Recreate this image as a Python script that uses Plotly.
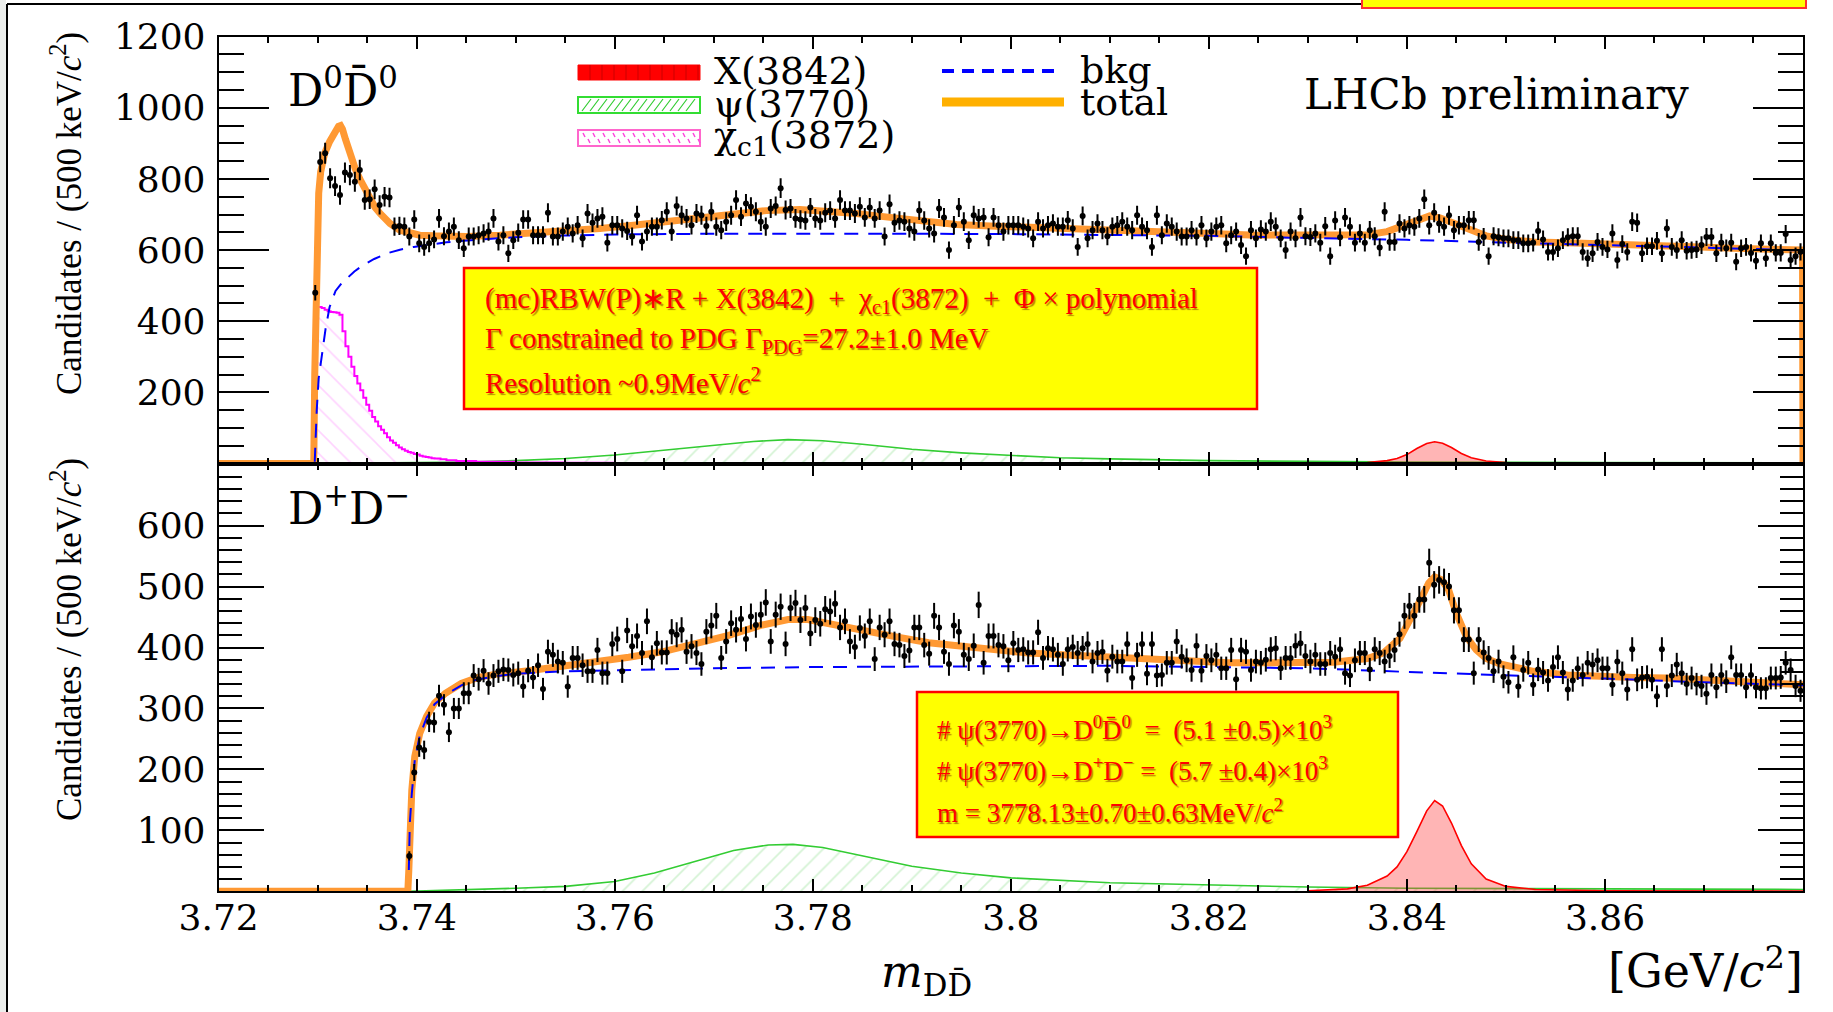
import numpy as np
import plotly.graph_objects as go

W, H = 1833, 1012

# ---------------- data ----------------
BIN = 0.0005
top_first_bin = 3.72975   # D0 D0bar, first bin centre
bot_first_bin = 3.73925   # D+ D-, first bin centre

top_counts = [
    480, 848, 872, 802, 780, 755, 818, 811, 792, 825,
    741, 743, 771, 727, 750, 748, 666, 668, 666, 638,
    686, 619, 609, 619, 630, 689, 639, 652, 666, 628,
    605, 638, 638, 642, 647, 652, 689, 624, 642, 591,
    628, 649, 686, 686, 642, 642, 642, 705, 638, 638,
    652, 666, 647, 670, 633, 703, 677, 689, 694, 621,
    670, 670, 661, 654, 638, 698, 624, 652, 666, 666,
    684, 708, 652, 724, 698, 689, 670, 703, 698, 668,
    708, 666, 656, 680, 698, 741, 694, 731, 722, 708,
    680, 666, 717, 724, 774, 713, 717, 689,
    686, 683, 720, 689, 683, 705, 711, 689, 741, 711,
    711, 703, 722, 692, 720, 689, 711, 638, 729, 677,
    683, 680, 661, 652, 711, 683, 661, 647, 717, 692,
    600, 670, 720, 680, 628, 698, 689, 692, 636, 692,
    670, 652, 670, 670, 670, 666, 661, 633, 680, 661,
    670, 675, 666, 666, 684, 661, 609, 696, 633, 656,
    675, 656, 639, 666, 670, 680, 666, 656, 698, 666,
    656, 609, 698, 642, 675, 666, 652, 638, 638, 656,
    638, 670, 633, 652, 666, 670, 619, 642, 652, 614,
    583, 656, 633, 658, 652, 680, 666, 633, 600, 652,
    633,
    692, 639, 637, 647, 621, 667, 583, 683, 636, 692,
    666, 621, 647, 621, 656, 639, 607, 708, 623, 623,
    675, 661, 670, 666, 689, 743, 670, 705, 675, 666,
    698, 656, 670, 670, 684, 684, 623, 637, 583, 639,
    636, 633, 633, 628, 628, 619, 619, 621, 654, 630,
    595, 595, 605, 628, 636, 639, 639, 595, 577, 591,
    623, 609, 602, 647, 572, 617, 595, 680, 677, 591,
    611, 611, 626, 591, 661, 609, 600, 628, 598, 600,
    602, 614, 637, 637, 591, 621, 605, 621, 567, 605,
    609, 592, 570, 619, 577, 619, 592, 592, 645, 572,
    583, 595,
]

bot_counts = [
    58, 195, 236, 232, 278, 277, 321, 306, 261, 300,
    300, 325, 325, 354, 348, 362, 341, 354, 361, 364,
    363, 355, 358, 336, 362, 351, 371, 332, 393, 388,
    377, 375, 336, 383, 383, 371, 361, 361, 396, 358,
    358, 406, 414, 361, 428, 402, 419, 391, 443, 384,
    407, 392, 392, 426, 421, 429, 393, 402, 391, 373,
    426, 436, 452, 383, 410, 440, 429, 447, 414, 451,
    437, 454, 474, 410, 454, 467, 406, 465, 473, 445,
    465, 423, 445, 439, 463, 459, 472, 433, 443, 410,
    401, 432, 419, 443, 381, 433, 421, 443, 406, 404,
    386, 395, 433, 433, 404, 390, 452, 433, 393, 373,
    436, 426, 388, 381, 403, 470, 375, 419, 419, 404,
    402, 379, 407, 396, 397, 392, 392, 425, 383, 399,
    397, 388, 373, 397, 401, 391, 399, 406, 377, 391,
    393, 362, 385, 377, 377, 406, 350, 388, 406, 357,
    406, 354, 355, 375, 375, 410, 385, 379, 363, 403,
    362, 386, 379, 388, 366, 366, 396, 348, 396, 393,
    363, 377, 375, 380, 397, 399, 366, 383, 383, 403,
    407, 386,
    377, 388, 373, 373, 391, 385, 397, 358, 354, 379,
    391, 391, 364, 397, 391, 377, 386, 396, 422, 452,
    468, 452, 479, 479, 539, 503, 511, 507, 500, 461,
    461, 413, 413, 358, 413, 392, 383, 361, 377, 352,
    343, 384, 336, 363, 375, 339, 364, 359, 346, 368,
    384, 359, 331, 346, 366, 355, 375, 372, 379, 366,
    366, 339, 377, 358, 331, 397, 347, 351, 352, 347,
    320, 397, 337, 354, 372, 358, 340, 350, 340, 337,
    324, 355, 335, 355, 344, 384, 355, 355, 335, 355,
    335, 333, 333, 350, 350, 351, 375, 363, 337, 329,
]

# ---- fit curves, D0 D0bar ----
top_total_m = [3.7200, 3.7296, 3.7297, 3.7299, 3.7301, 3.7303, 3.7307, 3.7312, 3.7316,
               3.7319, 3.7321, 3.7323, 3.7325, 3.7328, 3.7333, 3.7338, 3.7343, 3.7348,
               3.7353, 3.7358, 3.7363, 3.7368, 3.7373, 3.7383, 3.7393, 3.7403, 3.7417,
               3.7450, 3.7484, 3.7518, 3.7552, 3.7585, 3.7619, 3.7652, 3.7686, 3.7720,
               3.7753, 3.7787, 3.7811, 3.7844, 3.7878, 3.7912, 3.7945, 3.7979, 3.8013,
               3.8046, 3.8080, 3.8114, 3.8147, 3.8181, 3.8215, 3.8248, 3.8292, 3.8326,
               3.8360, 3.8380, 3.8393, 3.8410, 3.8423, 3.8434, 3.8447, 3.8460, 3.8480,
               3.8501, 3.8528, 3.8562, 3.8595, 3.8629, 3.8663, 3.8696, 3.8730, 3.8764,
               3.8797, 3.87995, 3.8800]
top_total_v = [0, 0, 250, 640, 760, 820, 872, 905, 928,
               940, 948, 950, 940, 912, 862, 828, 797, 768,
               741, 720, 703, 688, 675, 656, 647, 642, 640,
               638, 642, 647, 652, 661, 670, 680, 694, 703,
               711, 714, 710, 703, 692, 680, 672, 668, 664,
               661, 658, 654, 652, 647, 645, 642, 641, 640,
               643, 652, 666, 686, 696, 690, 675, 661, 640,
               630, 623, 621, 619, 616, 611, 609, 605, 602,
               600, 600, 0]

top_bkg_m = [3.7297, 3.7299, 3.7301, 3.7304, 3.7308, 3.7312, 3.7318, 3.7324, 3.7329,
             3.7337, 3.7346, 3.7357, 3.7370, 3.7383, 3.7397, 3.7430, 3.7464, 3.7500,
             3.7550, 3.7600, 3.7700, 3.7800, 3.7900, 3.8000, 3.8100, 3.8200, 3.8300,
             3.8400, 3.8500, 3.8600, 3.8700, 3.8800]
top_bkg_v = [5, 150, 240, 300, 380, 440, 485, 506, 520,
             540, 558, 575, 591, 601, 609, 622, 630, 636,
             641, 644, 646, 647, 646, 645, 643, 640, 634,
             629, 621, 615, 607, 599]

top_psi_m = [3.7297, 3.735, 3.740, 3.745, 3.750, 3.755, 3.760, 3.765, 3.770, 3.774,
             3.7775, 3.781, 3.785, 3.790, 3.795, 3.800, 3.805, 3.810, 3.820, 3.830,
             3.840, 3.860, 3.880]
top_psi_v = [0, 1, 2, 4, 8, 14, 24, 37, 52, 62,
             67, 64, 54, 40, 30, 22, 16, 13, 8, 6,
             4, 3, 2]

top_x_m = [3.830, 3.834, 3.836, 3.838, 3.839, 3.840, 3.841, 3.842, 3.8428, 3.8436,
           3.8445, 3.8455, 3.8465, 3.848, 3.850, 3.853, 3.860, 3.880]
top_x_v = [0.5, 1.5, 3, 8, 14, 25, 42, 56, 61, 57,
           45, 28, 16, 7, 3, 1.5, 0.6, 0.2]

top_chi_m = [3.7297, 3.7298, 3.7301, 3.7304, 3.7307, 3.7310, 3.7313, 3.7316, 3.7319,
             3.7322, 3.7325, 3.7328, 3.7331, 3.7334, 3.7337, 3.7340, 3.7343, 3.7346,
             3.7349, 3.7352, 3.7355, 3.7358, 3.7361, 3.7364, 3.7367, 3.7370, 3.7373,
             3.7376, 3.7379, 3.7382, 3.7385, 3.7388, 3.7391, 3.7394, 3.7397, 3.7400,
             3.7403, 3.7406, 3.7409, 3.7412, 3.7415, 3.7418, 3.7424, 3.7430, 3.7440,
             3.7460, 3.7500, 3.7550, 3.7600, 3.7700]
top_chi_v = [0, 440, 440, 437, 432, 428, 426, 425, 424,
             418, 372, 330, 300, 272, 246, 225, 206, 185,
             165, 148, 131, 118, 105, 95, 85, 74, 65,
             58, 51, 45, 40, 36, 32, 30, 27, 25,
             22, 20, 18, 17, 15, 14, 12, 9, 7,
             5, 3, 2, 1, 0.5]

# ---- fit curves, D+ D- ----
bot_total_m = [3.7200, 3.7391, 3.7392, 3.7393, 3.7395, 3.7398, 3.7403, 3.7410, 3.7418,
               3.7429, 3.7445, 3.7462, 3.7479, 3.7513, 3.7547, 3.7580, 3.7614, 3.7648,
               3.7681, 3.7715, 3.7749, 3.7775, 3.7795, 3.7816, 3.7850, 3.7883, 3.7917,
               3.7951, 3.7984, 3.8018, 3.8052, 3.8085, 3.8119, 3.8153, 3.8186, 3.8220,
               3.8254, 3.8292, 3.8326, 3.8360, 3.8376, 3.8393, 3.8403, 3.8413, 3.8422,
               3.8428, 3.8435, 3.8442, 3.8450, 3.8460, 3.8470, 3.8480, 3.8494, 3.8528,
               3.8562, 3.8595, 3.8629, 3.8662, 3.8696, 3.8730, 3.8764, 3.8800]
bot_total_v = [0, 0, 35, 112, 166, 221, 259, 287, 309,
               325, 341, 351, 356, 362, 369, 375, 384, 393,
               406, 420, 437, 446, 446, 440, 430, 418, 408,
               402, 396, 391, 388, 385, 382, 380, 377, 375,
               375, 375, 376, 382, 391, 415, 443, 476, 506,
               516, 511, 495, 456, 418, 396, 382, 373, 361,
               355, 352, 351, 350, 347, 344, 341, 339]

bot_bkg_m = [3.7392, 3.7393, 3.7395, 3.7398, 3.7403, 3.7410, 3.7418, 3.7430, 3.7445,
             3.7460, 3.7480, 3.7500, 3.7550, 3.7600, 3.7700, 3.7800, 3.7900, 3.8000,
             3.8100, 3.8200, 3.8300, 3.8400, 3.8500, 3.8600, 3.8700, 3.8800]
bot_bkg_v = [35, 112, 160, 215, 255, 285, 307, 323, 338,
             347, 353, 357, 361, 363, 366, 368, 369, 370,
             370, 368, 366, 360, 355, 349, 343, 338]

bot_psi_m = [3.7392, 3.742, 3.745, 3.750, 3.755, 3.760, 3.764, 3.768, 3.772, 3.7755,
             3.778, 3.781, 3.785, 3.790, 3.795, 3.800, 3.810, 3.820, 3.830, 3.840,
             3.860, 3.880]
bot_psi_v = [0, 1, 3, 5, 8, 16, 30, 48, 67, 76,
             77, 72, 58, 41, 30, 22, 14, 10, 7, 5,
             4, 3]

bot_x_m = [3.830, 3.834, 3.836, 3.838, 3.839, 3.840, 3.841, 3.842, 3.8428, 3.8436,
           3.8445, 3.8455, 3.8465, 3.848, 3.850, 3.853, 3.860, 3.880]
bot_x_v = [1, 4, 10, 25, 40, 65, 98, 132, 149, 140,
           112, 75, 45, 20, 8, 3, 1, 0.3]

# axis ticks
x_major = [3.72, 3.74, 3.76, 3.78, 3.80, 3.82, 3.84, 3.86, 3.88]
x_major_text = ["3.72", "3.74", "3.76", "3.78", "3.8", "3.82", "3.84", "3.86", ""]
yt_major = [200, 400, 600, 800, 1000, 1200]
yb_major = [100, 200, 300, 400, 500, 600]

# ---------------- derived ----------------
top_x = [round(top_first_bin + BIN * i, 6) for i in range(len(top_counts))]
bot_x = [round(bot_first_bin + BIN * i, 6) for i in range(len(bot_counts))]
x_minor = [round(3.72 + 0.005 * k, 4) for k in range(33) if k % 4 != 0]
yt_minor = [v for v in range(50, 1201, 50) if v % 200 != 0]
yb_minor = [v for v in range(20, 701, 20) if v % 100 != 0]

ORANGE = "#ff9933"
SERIF = "DejaVu Serif"
TIMES = "Liberation Serif"


def PX(x):
    return x / W


def PY(y):
    return 1 - y / H


fig = go.Figure()


def add_panel(xa, ya, psi_m, psi_v, xm, xv, tot_m, tot_v, bkg_m, bkg_v, cx, cy, chi=None):
    # psi(3770)
    fig.add_trace(go.Scatter(x=psi_m, y=psi_v, xaxis=xa, yaxis=ya, mode="lines",
                             line=dict(color="#33cc33", width=1.6), fill="tozeroy",
                             fillcolor="rgba(0,0,0,0)",
                             fillpattern=dict(shape="/", fgcolor="rgba(60,200,60,0.45)",
                                              bgcolor="rgba(0,0,0,0)", size=14, solidity=0.12),
                             showlegend=False, hoverinfo="skip"))
    if chi is not None:
        fig.add_trace(go.Scatter(x=chi[0], y=chi[1], xaxis=xa, yaxis=ya, mode="lines",
                                 line=dict(color="#ff00ff", width=2, shape="hv"), fill="tozeroy",
                                 fillcolor="rgba(0,0,0,0)",
                                 fillpattern=dict(shape="\\", fgcolor="rgba(255,80,255,0.5)",
                                                  bgcolor="rgba(0,0,0,0)", size=16, solidity=0.1),
                                 showlegend=False, hoverinfo="skip"))
    # X(3842)
    fig.add_trace(go.Scatter(x=xm, y=xv, xaxis=xa, yaxis=ya, mode="lines",
                             line=dict(color="#ff0000", width=1.6), fill="tozeroy",
                             fillcolor="rgba(255,60,60,0.38)",
                             showlegend=False, hoverinfo="skip"))
    # total
    fig.add_trace(go.Scatter(x=tot_m, y=tot_v, xaxis=xa, yaxis=ya, mode="lines",
                             line=dict(color=ORANGE, width=7),
                             showlegend=False, hoverinfo="skip"))
    # background
    fig.add_trace(go.Scatter(x=bkg_m, y=bkg_v, xaxis=xa, yaxis=ya, mode="lines",
                             line=dict(color="#0000ff", width=2, dash="14px,10px"),
                             showlegend=False, hoverinfo="skip"))
    # data
    fig.add_trace(go.Scatter(x=cx, y=cy, xaxis=xa, yaxis=ya, mode="markers",
                             marker=dict(color="black", size=6),
                             error_y=dict(type="data", array=list(np.sqrt(cy)), thickness=2,
                                          width=0, color="black"),
                             showlegend=False, hoverinfo="skip"))


add_panel("x", "y", top_psi_m, top_psi_v, top_x_m, top_x_v, top_total_m, top_total_v,
          top_bkg_m, top_bkg_v, top_x, top_counts, chi=(top_chi_m, top_chi_v))
add_panel("x2", "y2", bot_psi_m, bot_psi_v, bot_x_m, bot_x_v, bot_total_m, bot_total_v,
          bot_bkg_m, bot_bkg_v, bot_x, bot_counts)

xdom = [PX(218.7), PX(1803)]
ydom_top = [PY(463.5), PY(36.7)]
ydom_bot = [PY(891.3), PY(463.5)]

base_x = dict(range=[3.72, 3.88], domain=xdom, showgrid=False, zeroline=False, showline=True,
              linecolor="black", linewidth=2, mirror="allticks", ticks="inside", ticklen=12,
              tickwidth=2, tickcolor="black", tickmode="array", tickvals=x_major,
              automargin=False,
              minor=dict(tickmode="array", tickvals=x_minor, ticks="inside", ticklen=6,
                         tickwidth=1.5, tickcolor="black"))
base_y = dict(showgrid=False, zeroline=False, showline=True, linecolor="black", linewidth=2,
              mirror="allticks", ticks="inside", tickwidth=2, tickcolor="black",
              tickmode="array", ticklabelstandoff=4, automargin=False,
              tickfont=dict(family=SERIF, size=36, color="black"))

fig.update_layout(
    width=W, height=H, margin=dict(l=0, r=0, t=0, b=0, pad=0, autoexpand=False),
    paper_bgcolor="white", plot_bgcolor="white", showlegend=False,
    xaxis=dict(base_x, anchor="y", showticklabels=False),
    xaxis2=dict(base_x, anchor="y2", ticktext=x_major_text, ticklabelstandoff=-7,
                tickfont=dict(family=SERIF, size=36, color="black")),
    yaxis=dict(base_y, domain=ydom_top, anchor="x", range=[0, 1200], tickvals=yt_major,
               ticklen=50, minor=dict(tickmode="array", tickvals=yt_minor, ticks="inside",
                                      ticklen=25, tickwidth=1.5, tickcolor="black")),
    yaxis2=dict(base_y, domain=ydom_bot, anchor="x2", range=[0, 702], tickvals=yb_major,
                ticklen=45, minor=dict(tickmode="array", tickvals=yb_minor, ticks="inside",
                                       ticklen=23, tickwidth=1.5, tickcolor="black")),
)

ann = []


def text(x, y, s, size, family=SERIF, color="black", xanchor="center", angle=0, shadow=None):
    f = dict(family=family, size=size, color=color)
    if shadow:
        f["shadow"] = shadow
    ann.append(dict(x=PX(x), y=PY(y), xref="paper", yref="paper", text=s, showarrow=False,
                    xanchor=xanchor, yanchor="middle", textangle=angle, font=f))


ytitle = "Candidates / (500 keV/<i>c</i><sup>2</sup>)"
text(66, 214, ytitle, 35, family=TIMES, angle=-90)
text(66, 640, ytitle, 35, family=TIMES, angle=-90)
text(926, 974, "<i>m</i><sub>DD\u0304</sub>", 44)
text(1705, 968, "[GeV/<i>c</i><sup>2</sup>]", 46)
text(286, 88, "D<sup>0</sup>D\u0304<sup>0</sup>", 44, xanchor="left")
text(286, 505, "D<sup>+</sup>D<sup>\u2212</sup>", 44, xanchor="left")
text(1496, 94, "LHCb preliminary", 42)

# legend texts
text(712, 71, "X(3842)", 38, xanchor="left")
text(712, 104, "\u03c8(3770)", 38, xanchor="left")
text(712, 137, "\u03c7<sub>c1</sub>(3872)", 38, xanchor="left")
text(1078, 70, "bkg", 38, xanchor="left")
text(1078, 102, "total", 38, xanchor="left")

# info boxes text
RED = "#ff0000"
SH = "1.5px 1.5px 1px rgba(150,90,0,0.7)"
nb = "\u00a0"
text(483, 300, "(mc)RBW(P)\u2217R + X(3842)" + nb * 2 + "+" + nb * 2 + "\u03c7<sub>c1</sub>(3872)"
     + nb * 2 + "+" + nb * 2 + "\u03a6 \u00d7 polynomial", 29, family=TIMES, color=RED,
     xanchor="left", shadow=SH)
text(483, 340, "\u0393 constrained to PDG \u0393<sub>PDG</sub>=27.2\u00b11.0 MeV", 29,
     family=TIMES, color=RED, xanchor="left", shadow=SH)
text(483, 381, "Resolution ~0.9MeV/<i>c</i><sup>2</sup>", 29, family=TIMES, color=RED,
     xanchor="left", shadow=SH)
text(935, 728, "# \u03c8(3770)\u2192D<sup>0</sup>D\u0304<sup>0</sup>" + nb * 2 + "=" + nb * 2
     + "(5.1 \u00b10.5)\u00d710<sup>3</sup>", 27, family=TIMES, color=RED, xanchor="left", shadow=SH)
text(935, 769, "# \u03c8(3770)\u2192D<sup>+</sup>D<sup>\u2212</sup> =" + nb * 2
     + "(5.7 \u00b10.4)\u00d710<sup>3</sup>", 27, family=TIMES, color=RED, xanchor="left", shadow=SH)
text(935, 811, "m = 3778.13\u00b10.70\u00b10.63MeV/<i>c</i><sup>2</sup>", 27, family=TIMES,
     color=RED, xanchor="left", shadow=SH)

fig.update_layout(annotations=ann)

# ---------------- decoration shapes (paper coordinates) ----------------
shapes = []


def rect(x0, y0, x1, y1, fill, line, lw, layer="above"):
    shapes.append(dict(type="rect", xref="paper", yref="paper", x0=PX(x0), x1=PX(x1),
                       y0=PY(y1), y1=PY(y0), fillcolor=fill,
                       line=dict(color=line, width=lw), layer=layer))


def seg_path(segs, color, width):
    p = " ".join("M{:.5f},{:.5f} L{:.5f},{:.5f}".format(PX(a), PY(b), PX(c), PY(d))
                 for a, b, c, d in segs)
    shapes.append(dict(type="path", xref="paper", yref="paper", path=p,
                       line=dict(color=color, width=width), layer="above"))


# slide frame pieces
rect(0, 0, 6, H, "rgba(200,205,200,0.35)", "rgba(0,0,0,0)", 0, layer="below")
seg_path([(7, 4, 7, H), (7, 4, 1362, 4)], "black", 2)
rect(1362, -10, 1806, 8, "#ffff00", "#ff3030", 2)

# fit info boxes
rect(464, 268, 1257, 409, "#ffff00", "#ff0000", 2.5)
rect(917, 692, 1398, 837, "#ffff00", "#ff0000", 2.5)

# legend keys
rect(578, 65, 700, 80, "#ff0000", "#ff0000", 1)
seg_path([(x, 65, x, 80) for x in range(590, 700, 12)], "#cc0000", 1)
rect(578, 97, 700, 113, "rgba(0,0,0,0)", "#33dd33", 2)
seg_path([(x, 111, x + 9, 99) for x in range(582, 690, 8)], "#33cc33", 1.2)
rect(578, 130, 700, 146, "rgba(0,0,0,0)", "#ff66cc", 2)
seg_path([(x, 133, x + 2, 137) for x in range(583, 696, 10)]
         + [(x + 5, 139, x + 7, 143) for x in range(583, 696, 10)], "#ff44dd", 1.5)
seg_path([(942, 71, 1054, 71)], "#0000ff", 4)
shapes[-1]["line"]["dash"] = "12px,8px"
seg_path([(942, 102, 1064, 102)], "#ffb000", 9)

fig.update_layout(shapes=shapes)

fig.write_html("out.html")
